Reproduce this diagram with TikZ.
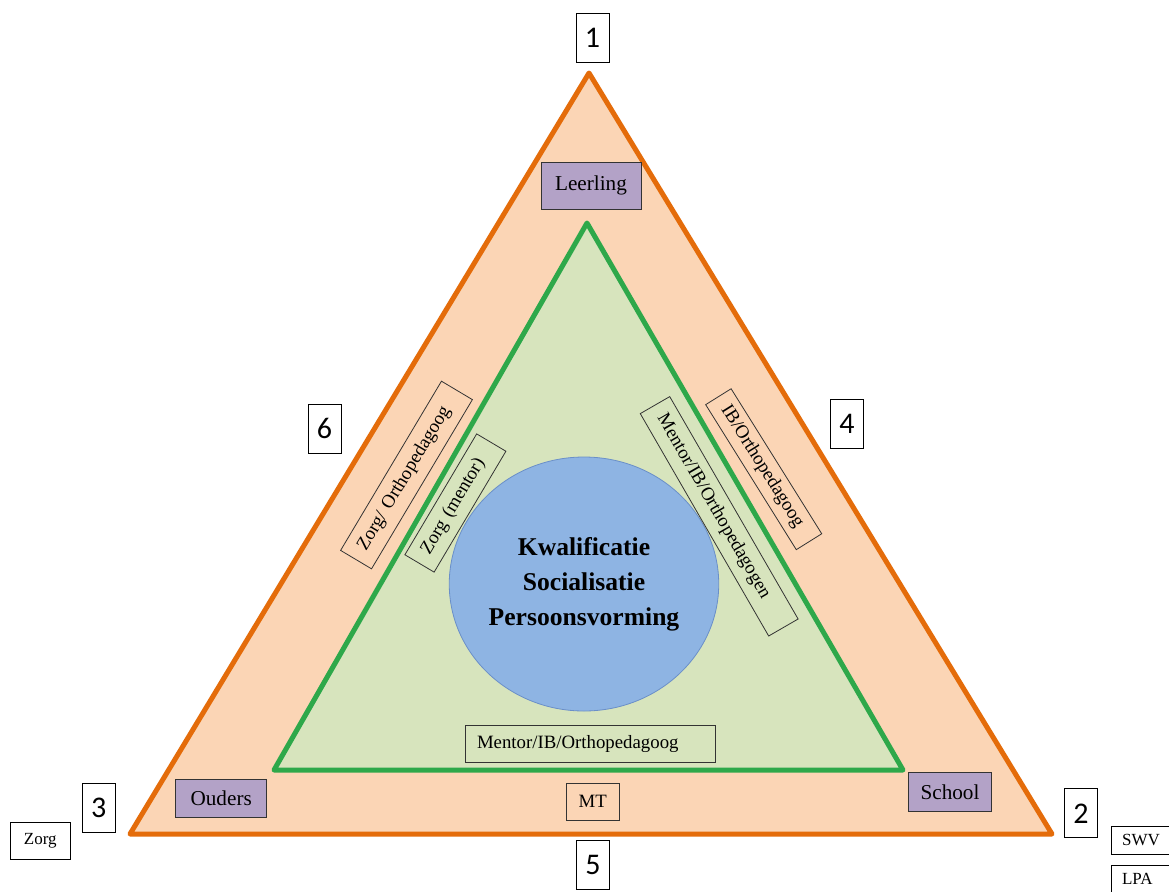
\documentclass[tikz,border=0pt]{standalone}
\usepackage{fontspec}
\setmainfont{Liberation Serif}
\newfontfamily\digitfont{Carlito}
\usetikzlibrary{positioning,shapes.geometric}

\definecolor{edgeorange}{HTML}{E46C0A}
\definecolor{peach}{HTML}{FBD5B5}
\definecolor{edgegreen}{HTML}{2EA84A}
\definecolor{sage}{HTML}{D7E4BD}
\definecolor{lavender}{HTML}{B3A2C7}
\definecolor{skyblue}{HTML}{8EB4E3}
\definecolor{skyline}{HTML}{6A8FC8}

\begin{document}
\begin{tikzpicture}[x=0.5pt, y=-0.5pt,
    party/.style={rectangle, draw=black!80, fill=lavender, inner sep=0pt,
    font=\fontsize{10.6}{12}\selectfont},
    role/.style={rectangle, draw=black!80, inner ysep=0pt, inner xsep=6pt, align=left,
    font=\fontsize{9.4}{10}\selectfont},
    corner/.style={rectangle, draw=black, fill=white, inner sep=0pt,
    minimum width=16.5pt, minimum height=24.5pt, font=\digitfont\fontsize{15}{18}\selectfont},
    extra/.style={rectangle, draw=black, fill=white, inner sep=0pt,
    font=\fontsize{8.5}{10}\selectfont}]

    \useasboundingbox[fill=white] (0,0) rectangle (1169,891);

    % outer and inner triangle
    \coordinate (top) at (589,73);
    \coordinate (left) at (130,834);
    \coordinate (right) at (1052,834);
    \draw [edgeorange, fill=peach, line width=2.5pt, line join=round] (top) -- (right) -- (left) -- cycle;

    \coordinate (itop) at (587,223);
    \coordinate (ileft) at (274,770);
    \coordinate (iright) at (903,770);
    \draw [edgegreen, fill=sage, line width=2.5pt, line join=round] (itop) -- (iright) -- (ileft) -- cycle;

    \node (core) [ellipse, draw=skyline, fill=skyblue, minimum width=132pt, minimum height=127pt, inner sep=0pt,
    align=center, font=\bfseries\fontsize{12.8}{17.5}\selectfont] at (584,584)
    {Kwalificatie \\ Socialisatie \\ Persoonsvorming};

    % the three parties
    \node (leerling) [party, minimum width=50pt, minimum height=23.3pt] at (591,185.7) {Leerling};
    \node (ouders) [party, minimum width=45.5pt, minimum height=19.2pt] at (221.2,798.5) {Ouders};
    \node (school) [party, minimum width=41.7pt, minimum height=19.5pt] at (950,792.2) {School};

    % roles along the sides
    \node (zorgortho) [role, rotate=59.2, text width=86.5pt, minimum height=18pt] at (406.5,475) {Zorg/ Orthopedagoog};
    \node (zorgmentor) [role, rotate=59.3, text width=58.3pt, minimum height=17pt] at (455.4,503) {Zorg (mentor)};
    \node (ibortho) [role, rotate=-58, text width=73.5pt, minimum height=15pt] at (763.7,469.2) {IB/Orthopedagoog};
    \node (mentorib) [role, rotate=-60, text width=116.4pt, minimum height=17pt] at (719.2,516.3) {Mentor/IB/Orthopedagogen};
    \node (mentorbase) [role, text width=113pt, minimum height=18.6pt] at (590,743.7) {Mentor/IB/Orthopedagoog};
    \node (mt) [role, inner xsep=0pt, minimum width=26.5pt, minimum height=18.5pt] at (592.7,801.7) {MT};

    % numbers
    \node (n1) [corner] at (592.5,37.5) {1};
    \node (n2) [corner] at (1081,813.3) {2};
    \node (n3) [corner] at (98.7,808) {3};
    \node (n4) [corner] at (847,423.5) {4};
    \node (n5) [corner] at (593,865) {5};
    \node (n6) [corner] at (324.5,428.5) {6};

    % outside partners
    \node (zorg) [extra, minimum width=30.3pt, minimum height=18.3pt] at (40.3,841) {Zorg};
    \node (swv) [extra, anchor=west, minimum width=34pt, minimum height=13.6pt, text width=23pt] at (1110.7,840.4) {SWV};
    \node (lpa) [extra, anchor=west, minimum width=34pt, minimum height=13.6pt, text width=23pt] at (1110.7,879) {LPA};
\end{tikzpicture}
\end{document}
